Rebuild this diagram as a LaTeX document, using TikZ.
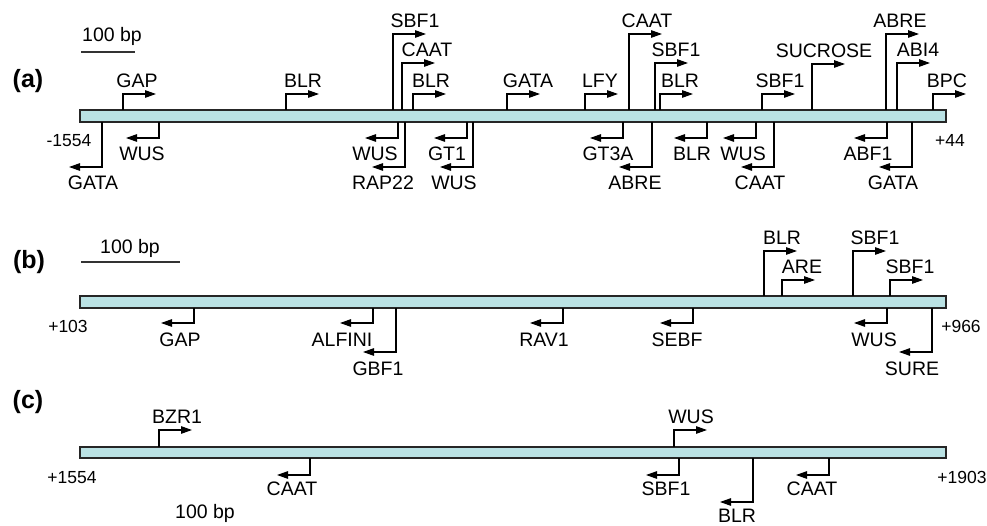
\documentclass[tikz,border=0pt]{standalone}
\usepackage{fontspec}
\setmainfont{Liberation Sans}
\usetikzlibrary{arrows.meta}
\definecolor{dnafill}{RGB}{186,226,228}
\tikzset{
  dna/.style={draw=black!85, line width=1.4pt, fill=dnafill},
  site/.style={line width=1.2pt, -{Triangle[length=11pt,width=7.5pt]}},
  tf/.style={anchor=base, inner sep=0pt, font=\fontsize{19.5}{20}\selectfont},
  coordlab/.style={anchor=base, inner sep=0pt, font=\fontsize{17.5}{18}\selectfont},
  panel/.style={inner sep=0pt, font=\fontsize{25}{26}\selectfont\bfseries},
  scalebar/.style={line width=1.1pt, draw=black!80}
}

\begin{document}
\begin{tikzpicture}[x=1pt, y=-1pt]
    \useasboundingbox (0,0) rectangle (987,526);
    % panel (a): -1554 to +44
    \node[panel] (pa) at (28,81) {(a)};
    \node[tf] (sca) at (112,42) {100 bp};
    \coordinate (sca-l) at (81,52);
    \coordinate (sca-r) at (135,52);
    \draw[scalebar] (sca-l) -- (sca-r);
    \filldraw[dna] (80,110) rectangle (946,122);
    \node[coordlab] (a-start) at (69,147) {-1554};
    \node[coordlab] (a-end) at (950,147) {+44};
    % sites on the upper strand
    \foreach \x/\h/\t/\s [count=\i] in {123/94/137/GAP, 286/94/303/BLR,
        393/34/415/SBF1, 402/63/427/CAAT, 413/94/431/BLR, 507/94/528/GATA,
        585/94/600/LFY, 629/34/647/CAAT, 655/63/676/SBF1, 660/94/680/BLR,
        762/94/780/SBF1, 812/64/824/SUCROSE, 886/34/900/ABRE,
        897/63/918/ABI4, 933/94/947/BPC}{
      \coordinate (a-up\i-foot) at (\x,110);
      \coordinate (a-up\i-tip) at (\x+33,\h);
      \draw[site] (a-up\i-foot) |- (a-up\i-tip);
      \node[tf] (a-up\i) at (\t,\h-6) {\s};
    }
    % sites on the lower strand
    \foreach \x/\h/\t/\s [count=\i] in {102/167/93/GATA, 159/138/142/WUS,
        398/138/375/WUS, 405/167/383/RAP22, 467/138/447/GT1,
        473/167/454/WUS, 623/138/608/GT3A, 652/167/635/ABRE,
        707/138/692/BLR, 756/138/743/WUS, 774/167/760/CAAT,
        887/138/868/ABF1, 912/167/893/GATA}{
      \coordinate (a-dn\i-foot) at (\x,122);
      \coordinate (a-dn\i-tip) at (\x-33,\h);
      \draw[site] (a-dn\i-foot) |- (a-dn\i-tip);
      \node[tf] (a-dn\i) at (\t,\h+23) {\s};
    }
    % panel (b): +103 to +966
    \node[panel] (pb) at (29,262) {(b)};
    \node[tf] (scb) at (130,254) {100 bp};
    \coordinate (scb-l) at (81,262);
    \coordinate (scb-r) at (180,262);
    \draw[scalebar] (scb-l) -- (scb-r);
    \filldraw[dna] (80,296) rectangle (946,308);
    \node[coordlab] (b-start) at (68,333) {+103};
    \node[coordlab] (b-end) at (961,333) {+966};
    \foreach \x/\h/\t/\s [count=\i] in {764/251/782/BLR, 782/280/802/ARE,
        853/251/875/SBF1, 890/280/910/SBF1}{
      \coordinate (b-up\i-foot) at (\x,296);
      \coordinate (b-up\i-tip) at (\x+33,\h);
      \draw[site] (b-up\i-foot) |- (b-up\i-tip);
      \node[tf] (b-up\i) at (\t,\h-6) {\s};
    }
    \foreach \x/\h/\t/\s [count=\i] in {194/323/180/GAP, 373/323/342/ALFINI,
        396/352/378/GBF1, 563/323/544/RAV1, 693/323/677/SEBF,
        887/323/874/WUS, 932/352/912/SURE}{
      \coordinate (b-dn\i-foot) at (\x,308);
      \coordinate (b-dn\i-tip) at (\x-33,\h);
      \draw[site] (b-dn\i-foot) |- (b-dn\i-tip);
      \node[tf] (b-dn\i) at (\t,\h+23) {\s};
    }
    % panel (c): +1554 to +1903
    \node[panel] (pc) at (28,402) {(c)};
    \node[tf] (scc) at (205,518) {100 bp};
    \filldraw[dna] (80,447) rectangle (946,458);
    \node[coordlab] (c-start) at (72,483) {+1554};
    \node[coordlab] (c-end) at (962,483) {+1903};
    \foreach \x/\h/\t/\s [count=\i] in {159/430/177/BZR1, 674/430/691/WUS}{
      \coordinate (c-up\i-foot) at (\x,447);
      \coordinate (c-up\i-tip) at (\x+33,\h);
      \draw[site] (c-up\i-foot) |- (c-up\i-tip);
      \node[tf] (c-up\i) at (\t,\h-7) {\s};
    }
    \foreach \x/\h/\t/\s [count=\i] in {310/475/292/CAAT, 679/475/666/SBF1,
        753/502/737/BLR, 829/475/812/CAAT}{
      \coordinate (c-dn\i-foot) at (\x,458);
      \coordinate (c-dn\i-tip) at (\x-33,\h);
      \draw[site] (c-dn\i-foot) |- (c-dn\i-tip);
      \node[tf] (c-dn\i) at (\t,\h+20) {\s};
    }
\end{tikzpicture}
\end{document}
